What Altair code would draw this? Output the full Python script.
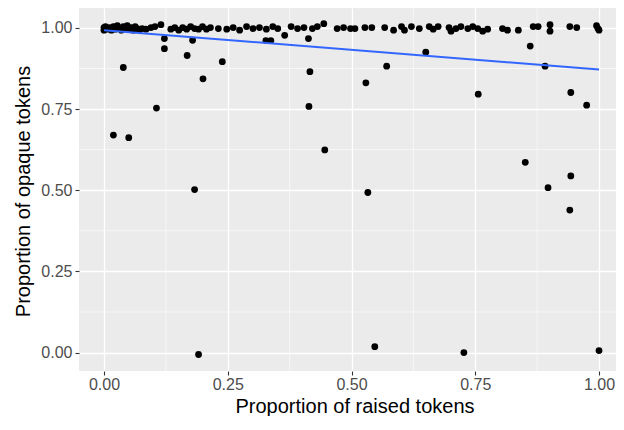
import altair as alt
import pandas as pd

# --- data ---
# points clustered near 1.00 (jittered band)
x_top = [0.000, 0.000, 0.003, 0.007, 0.011, 0.015, 0.019, 0.023, 0.027, 0.031,
         0.035, 0.039, 0.043, 0.047, 0.051, 0.055, 0.059, 0.063, 0.067, 0.071,
         0.077, 0.085, 0.095, 0.103, 0.115,
         0.135, 0.143, 0.151, 0.159, 0.167, 0.175, 0.183, 0.191, 0.199, 0.207,
         0.215, 0.231,
         0.248, 0.261, 0.274, 0.288, 0.301, 0.314, 0.328, 0.341, 0.351, 0.378,
         0.391, 0.404, 0.421, 0.431, 0.444, 0.471, 0.484, 0.498,
         0.507, 0.527, 0.541, 0.567, 0.585, 0.601, 0.607, 0.621, 0.637, 0.657,
         0.665, 0.675, 0.697, 0.701, 0.711, 0.721, 0.735, 0.745, 0.755, 0.765,
         0.775, 0.805, 0.815, 0.837, 0.867, 0.877, 0.901, 0.901, 0.941, 0.955,
         0.995, 0.998, 1.000]
y_top = [1.001, 0.993, 1.004, 0.996, 1.001, 0.993, 1.004, 0.996, 1.007, 0.998,
         0.993, 1.004, 0.998, 1.007, 0.996, 1.001, 0.993, 1.004, 0.998, 0.993,
         0.998, 0.996, 1.001, 1.004, 1.010,
         0.996, 1.001, 0.993, 1.001, 0.996, 1.004, 0.998, 0.996, 1.004, 0.996,
         1.001, 0.998,
         0.996, 1.001, 0.993, 1.004, 0.998, 1.001, 0.996, 1.004, 0.998, 1.004,
         0.998, 1.001, 0.998, 1.004, 1.013, 0.998, 1.001, 0.998,
         0.998, 1.001, 1.001, 1.001, 0.993, 1.004, 0.993, 1.004, 0.998, 1.004,
         0.996, 1.004, 1.001, 0.990, 0.998, 1.004, 0.998, 1.004, 0.998, 0.990,
         0.996, 0.998, 0.993, 0.993, 1.004, 1.004, 1.010, 0.990, 1.004, 1.001,
         1.007, 0.998, 0.993]

# scattered points below the band
x_low = [0.039, 0.122, 0.122, 0.168, 0.179, 0.200, 0.239, 0.106, 0.019, 0.050,
         0.183, 0.191, 0.327, 0.337, 0.365, 0.413, 0.416, 0.414, 0.446, 0.529,
         0.571, 0.650, 0.756, 0.861, 0.891, 0.943, 0.975, 0.533, 0.547, 0.727,
         0.851, 0.897, 0.943, 0.941, 1.000]
y_low = [0.878, 0.967, 0.936, 0.915, 0.962, 0.843, 0.896, 0.753, 0.670, 0.662,
         0.502, -0.006, 0.961, 0.961, 0.977, 0.967, 0.865, 0.758, 0.624, 0.831,
         0.882, 0.925, 0.796, 0.944, 0.882, 0.801, 0.762, 0.493, 0.018, 0.000,
         0.586, 0.508, 0.544, 0.439, 0.006]

# fitted linear trend (endpoints)
fit_x = [0.0, 1.0]
fit_y = [0.993, 0.872]

major_breaks = [0.0, 0.25, 0.5, 0.75, 1.0]
minor_breaks = [0.125, 0.375, 0.625, 0.875]

pts = pd.DataFrame({"raised": x_top + x_low, "opaque": y_top + y_low})
fit = pd.DataFrame({"raised": fit_x, "opaque": fit_y})
minor = pd.DataFrame({"raised": minor_breaks, "opaque": minor_breaks})

xs = alt.Scale(domain=[-0.0505, 1.0343], nice=False, zero=False)
ys = alt.Scale(domain=[-0.0568, 1.0613], nice=False, zero=False)

FONT = "Liberation Sans"
common_axis = dict(
    values=major_breaks, format=".2f", grid=True, gridColor="white",
    gridWidth=1.3, domain=False, ticks=True, tickColor="#333333",
    tickWidth=1.1, tickSize=4, labelFont=FONT, labelFontSize=16,
    labelColor="#4D4D4D", labelFlush=False, labelOverlap=False,
    titleFont=FONT, titleFontSize=20, titleFontWeight="normal",
    titleColor="black", titleAlign="center", titleBaseline="alphabetic",
)

x_axis = alt.Axis(title="Proportion of raised tokens", labelPadding=1,
                  titleX=275.5, titleY=41, **common_axis)
y_axis = alt.Axis(title="Proportion of opaque tokens", labelPadding=3,
                  titleX=-50, titleY=183, titleAngle=270, **common_axis)

vgrid = alt.Chart(minor).mark_rule(color="white", strokeWidth=0.6).encode(
    x=alt.X("raised:Q", scale=xs, axis=x_axis)
)
hgrid = alt.Chart(minor).mark_rule(color="white", strokeWidth=0.6).encode(
    y=alt.Y("opaque:Q", scale=ys, axis=y_axis)
)
points = alt.Chart(pts).mark_circle(size=46, color="black", opacity=1).encode(
    x=alt.X("raised:Q", scale=xs, axis=x_axis),
    y=alt.Y("opaque:Q", scale=ys, axis=y_axis),
)
line = alt.Chart(fit).mark_line(color="#3366FF", strokeWidth=2).encode(
    x=alt.X("raised:Q", scale=xs, axis=x_axis),
    y=alt.Y("opaque:Q", scale=ys, axis=y_axis),
)

chart = alt.layer(vgrid, hgrid, points, line).properties(
    width=537, height=363,
    padding={"left": 71, "top": 0, "right": 0, "bottom": 45},
    autosize=alt.AutoSizeParams(type="none"),
    background="white",
).configure_view(fill="#EBEBEB", stroke=None)

chart.save("out.html", embed_options={"renderer": "svg", "actions": False})
